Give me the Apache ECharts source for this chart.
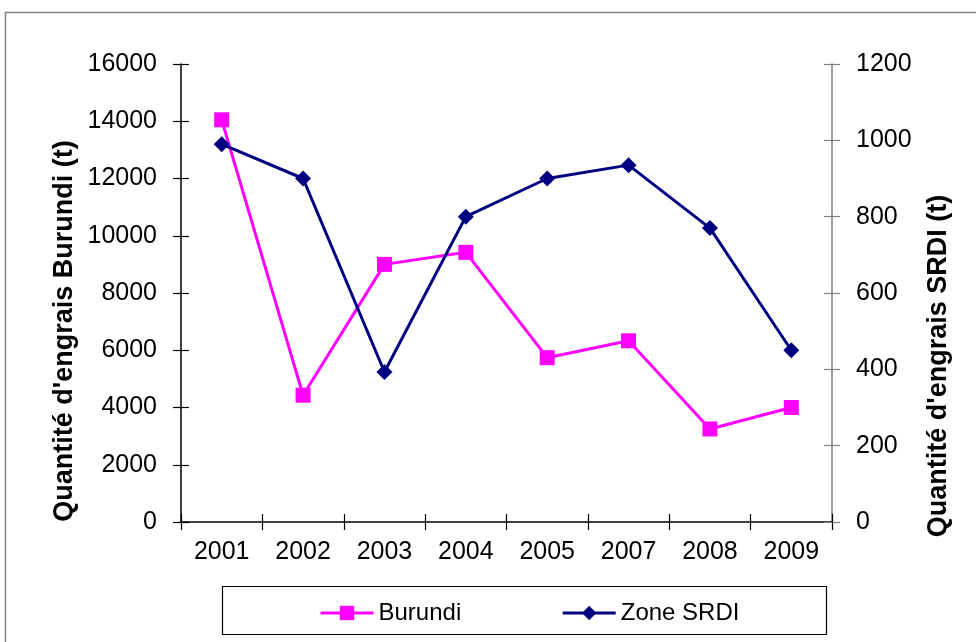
<!DOCTYPE html>
<html>
<head>
<meta charset="utf-8">
<script src="https://cdn.jsdelivr.net/npm/echarts@6/dist/echarts.min.js"></script>
<style>
html,body{margin:0;padding:0;background:#fff;}
#chart{width:976px;height:642px;}
</style>
</head>
<body>
<div id="chart"></div>
<script>
const years = ['2001','2002','2003','2004','2005','2007','2008','2009'];
const burundi = [14050, 4430, 9000, 9420, 5740, 6330, 3250, 4000];
const zoneSRDI = [990, 900, 393, 800, 900, 935, 770, 450];
const leftAxisTitle = "Quantité d'engrais Burundi (t)";
const rightAxisTitle = "Quantité d'engrais SRDI (t)";
const seriesNames = ['Burundi', 'Zone SRDI'];

const FONT = '"Liberation Sans", Arial, sans-serif';
const chart = echarts.init(document.getElementById('chart'));

function yAx(pos, max, interval, main, lineColor) {
  return {
    type: 'value', position: pos, min: 0, max: max, interval: interval,
    splitLine: {show: false},
    axisLine: {show: main, lineStyle: {color: lineColor, width: 1.5}},
    axisTick: {show: true, inside: !main, length: 8, lineStyle: {color: lineColor, width: 1.2}},
    axisLabel: {show: main, margin: 24, color: '#000', fontSize: 25, fontFamily: FONT,
                formatter: function (v) { return String(v); }},
  };
}

const titleStyle = {fontSize: 27, fontWeight: 'bold', fill: '#000', fontFamily: FONT,
                    textAlign: 'center', textVerticalAlign: 'middle'};

chart.setOption({
  backgroundColor: '#fff',
  animation: false,
  grid: {left: 181, right: 144, top: 64, bottom: 120},
  legend: {
    left: 319, top: 601, padding: 0, itemWidth: 53, itemHeight: 18, itemGap: 100,
    lineStyle: {width: 3},
    textStyle: {fontSize: 24, color: '#000', fontFamily: FONT},
    data: seriesNames
  },
  graphic: [
    {type: 'rect', silent: true, z: -1, shape: {x: 5.5, y: 12.5, width: 1000, height: 700}, style: {fill: 'none', stroke: '#808080', lineWidth: 1.5}},
    {type: 'rect', silent: true, z: -1, shape: {x: 222.5, y: 586.5, width: 604, height: 48}, style: {fill: 'none', stroke: '#000', lineWidth: 1.2}},
    {type: 'text', silent: true, x: 65, y: 331, rotation: Math.PI / 2,
     style: Object.assign({text: leftAxisTitle}, titleStyle)},
    {type: 'text', silent: true, x: 939, y: 366, rotation: Math.PI / 2,
     style: Object.assign({text: rightAxisTitle}, titleStyle)}
  ],
  xAxis: [
    {
      type: 'category', data: years, position: 'bottom', boundaryGap: true,
      axisLine: {lineStyle: {color: '#000', width: 1.5}},
      axisTick: {show: true, length: 8, lineStyle: {color: '#000', width: 1.2}},
      axisLabel: {margin: 18, color: '#000', fontSize: 25, fontFamily: FONT},
      splitLine: {show: false}
    },
    {
      type: 'category', data: years, position: 'bottom', boundaryGap: true,
      axisLine: {show: false},
      axisTick: {show: true, inside: true, length: 8, lineStyle: {color: '#000', width: 1.2}},
      axisLabel: {show: false},
      splitLine: {show: false}
    }
  ],
  yAxis: [
    yAx('left', 16000, 2000, true, '#000'),
    yAx('right', 1200, 200, true, '#808080'),
    yAx('left', 16000, 2000, false, '#000'),
    yAx('right', 1200, 200, false, '#808080')
  ],
  series: [
    {
      name: seriesNames[0], type: 'line', xAxisIndex: 0, yAxisIndex: 0, data: burundi,
      symbol: 'rect', symbolSize: 15,
      itemStyle: {color: '#FF00FF'},
      lineStyle: {color: '#FF00FF', width: 3}
    },
    {
      name: seriesNames[1], type: 'line', xAxisIndex: 0, yAxisIndex: 1, data: zoneSRDI,
      symbol: 'diamond', symbolSize: 16,
      itemStyle: {color: '#000080'},
      lineStyle: {color: '#000080', width: 3}
    }
  ]
});
</script>
</body>
</html>
